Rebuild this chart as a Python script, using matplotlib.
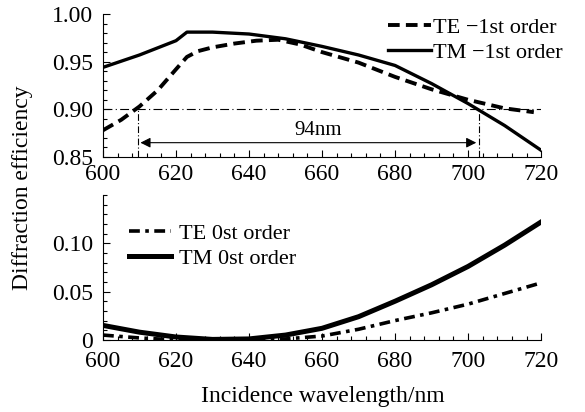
import matplotlib
matplotlib.use("Agg")
import matplotlib.pyplot as plt
from matplotlib.ticker import MultipleLocator, FormatStrFormatter

plt.rcParams['font.family'] = ['Liberation Serif', 'DejaVu Serif']

# -1st order (top panel)
wl_te1 = [600, 605, 610, 615, 620, 623, 626, 630, 636, 642, 648, 654, 660, 670, 680, 690, 700, 710, 718]
te1 = [0.878, 0.889, 0.903, 0.920, 0.942, 0.955, 0.961, 0.965, 0.969, 0.972, 0.973, 0.968,
       0.960, 0.949, 0.934, 0.921, 0.910, 0.901, 0.897]
wl_tm1 = [600, 610, 620, 623, 630, 640, 650, 660, 670, 680, 690, 700, 710, 720]
tm1 = [0.944, 0.957, 0.972, 0.981, 0.981, 0.979, 0.974, 0.966, 0.957, 0.946, 0.927, 0.906, 0.883, 0.857]

# 0th order (bottom panel)
wl0 = [600, 610, 620, 630, 640, 650, 660, 670, 680, 690, 700, 710, 720]
te0 = [0.005, 0.002, 0.0, 0.0, 0.0, 0.001, 0.004, 0.011, 0.020, 0.028, 0.037, 0.048, 0.059]
tm0 = [0.015, 0.008, 0.003, 0.0005, 0.001, 0.005, 0.012, 0.024, 0.040, 0.057, 0.076, 0.098, 0.122]

# bandwidth marker
level = 0.90
band = (609.5, 703.0)
band_label = '94nm'

fig = plt.figure(figsize=(5.85, 4.12), dpi=100)
ax1 = fig.add_axes([0.176, 0.619, 0.749, 0.347])
ax2 = fig.add_axes([0.176, 0.175, 0.749, 0.352])

fs = 16
tfs = 17

ax1.plot(wl_te1, te1, color='black', lw=2.8, dashes=(3, 1.6), label='TE \u22121st order')
ax1.plot(wl_tm1, tm1, color='black', lw=2.4, label='TM \u22121st order')
ax1.axhline(level, color='black', lw=0.8, ls=(0, (8, 3, 1, 3)))
for b in band:
    ax1.plot([b, b], [0.85, level], color='black', lw=0.8, ls=(0, (6, 2, 1, 2)))
ax1.annotate('', xy=(band[0], 0.865), xytext=(band[1], 0.865),
             arrowprops=dict(arrowstyle='<|-|>', color='black', lw=0.8, mutation_scale=15))
ax1.text(659, 0.868, band_label, ha='center', va='bottom', fontsize=15)
ax1.set_xlim(600, 720)
ax1.set_ylim(0.85, 1.00)
ax1.yaxis.set_major_locator(MultipleLocator(0.05))
ax1.yaxis.set_minor_locator(MultipleLocator(0.01))
ax1.yaxis.set_major_formatter(FormatStrFormatter('%.2f'))
ax1.legend(loc='upper left', bbox_to_anchor=(0.664, 0.957), bbox_transform=fig.transFigure,
           frameon=False, fontsize=fs, handlelength=1.9, handletextpad=0.12,
           borderpad=0, borderaxespad=0, labelspacing=0.2)

ax2.plot(wl0, te0, color='black', lw=2.6, ls=(0, (3, 1.5, 1, 1.5)), label='TE 0st order')
ax2.plot(wl0, tm0, color='black', lw=3.6, label='TM 0st order')
ax2.set_xlim(600, 720)
ax2.set_ylim(0, 0.15)
ax2.set_yticks([0, 0.05, 0.10])
ax2.set_yticklabels(['0', '0.05', '0.10'])
ax2.yaxis.set_minor_locator(MultipleLocator(0.01))
ax2.legend(loc='upper left', bbox_to_anchor=(0.22, 0.458), bbox_transform=fig.transFigure,
           frameon=False, fontsize=fs, handlelength=1.9, handletextpad=0.36,
           borderpad=0, borderaxespad=0, labelspacing=0.2)

for ax in (ax1, ax2):
    ax.spines['top'].set_visible(False)
    ax.spines['right'].set_visible(False)
    ax.xaxis.set_major_locator(MultipleLocator(20))
    ax.xaxis.set_minor_locator(MultipleLocator(4))
    ax.tick_params(which='both', direction='in', labelsize=tfs, width=0.8)
    ax.tick_params(which='major', length=5)
    ax.tick_params(which='minor', length=3)
    ax.tick_params(axis='y', which='both', pad=7)
ax1.tick_params(axis='x', which='both', pad=5)
ax2.tick_params(axis='x', which='both', pad=8)

fig.text(0.039, 0.544, 'Diffraction efficiency', rotation=90, ha='center', va='center', fontsize=tfs)
fig.text(0.551, 0.024, 'Incidence wavelength/nm', ha='center', va='baseline', fontsize=tfs)

fig.savefig('out.png', dpi=100)
